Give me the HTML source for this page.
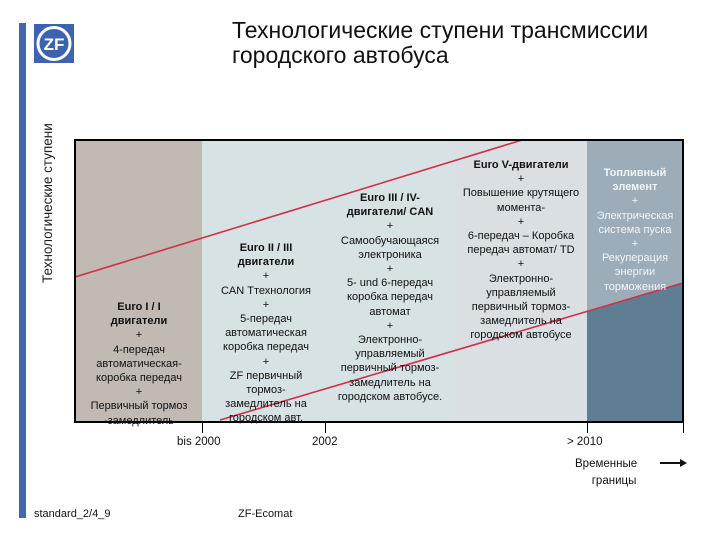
<!DOCTYPE html>
<html><head><meta charset="utf-8">
<style>
body{margin:0;width:720px;height:540px;background:#fff;position:relative;overflow:hidden;font-family:"Liberation Sans","DejaVu Sans",sans-serif;}
.abs{position:absolute}
.col{position:absolute;text-align:center;font-size:11px;line-height:14.2px;color:#111}
.col b{font-weight:bold}
.tick{position:absolute;width:1px;background:#000;top:422px;height:11px}
.lbl{position:absolute;font-size:11.5px;color:#111}
</style></head><body>
<div class="abs" style="left:19px;top:23px;width:7px;height:495px;background:#4466b0"></div>
<div class="abs" style="left:34px;top:24px;width:40px;height:39px;background:#3d63b0">
<svg width="40" height="39"><circle cx="20" cy="19.5" r="16" fill="none" stroke="#fff" stroke-width="3"/><text x="20" y="26" text-anchor="middle" font-family="Liberation Sans" font-weight="bold" font-size="17" fill="#fff">ZF</text></svg></div>
<div class="abs" style="left:232px;top:18px;font-size:23px;line-height:24.5px;color:#111">Технологические ступени трансмиссии<br>городского автобуса</div>
<div class="abs" style="left:40px;top:283px;transform:rotate(-90deg);transform-origin:0 0;font-size:13.5px;white-space:nowrap;color:#222">Технологические ступени</div>
<svg class="abs" style="left:0;top:0" width="720" height="540" id="ch">
<rect x="75" y="140" width="127" height="282" fill="#c0bab2"/>
<rect x="202" y="140" width="253" height="282" fill="#d6e2e4"/>
<rect x="455" y="140" width="132" height="282" fill="#d9dfe3"/>
<rect x="587" y="140" width="96" height="282" fill="#9cadb9"/>
<polygon points="587,312 683,283 683,422 587,422" fill="#5f7d93"/>
<g id="lines"></g>
<rect x="75" y="140" width="608" height="282" fill="none" stroke="#000" stroke-width="2"/>
</svg>
<script>
const stageX=[75,522];
const stageY=[277,140];
const stage2X=[220,683];
const stage2Y=[420,283];
const g=document.getElementById('lines');
function mk(xs,ys,n){const l=document.createElementNS('http://www.w3.org/2000/svg','line');
l.setAttribute('x1',xs[0]);l.setAttribute('y1',ys[0]);l.setAttribute('x2',xs[1]);l.setAttribute('y2',ys[1]);
l.setAttribute('stroke','#d0304a');l.setAttribute('stroke-width','1.6');


g.appendChild(l);}
mk(stageX,stageY,'upper-red-line');mk(stage2X,stage2Y,'lower-red-line');
</script>
<div class="col" style="left:78px;top:300px;width:122px"><b>Euro I / I<br>двигатели</b><br>+<br>4-передач<br>автоматическая-<br>коробка передач<br>+<br>Первичный тормоз<br>-замедлитель</div>
<div class="col" style="left:205px;top:241px;width:122px"><b>Euro II / III<br>двигатели</b><br>+<br>CAN Ттехнология<br>+<br>5-передач<br>автоматическая<br>коробка передач<br>+<br>ZF первичный<br>тормоз-<br>замедлитель на<br>городском авт.</div>
<div class="col" style="left:325px;top:191px;width:130px"><b>Euro III / IV-<br>двигатели/ CAN</b><br>+<br>Самообучающаяся<br>электроника<br>+<br>5- und 6-передач<br>коробка передач<br>автомат<br>+<br>Электронно-<br>управляемый<br>первичный тормоз-<br>замедлитель на<br>городском автобусе.</div>
<div class="col" style="left:452px;top:158px;width:138px"><b>Euro V-двигатели</b><br>+<br>Повышение крутящего<br>момента-<br>+<br>6-передач – Коробка<br>передач автомат/ TD<br>+<br>Электронно-<br>управляемый<br>первичный тормоз-<br>замедлитель на<br>городском автобусе</div>
<div class="col" style="left:587px;top:166px;width:96px;color:#f2f4f6"><b>Топливный<br>элемент</b><br>+<br>Электрическая<br>система пуска<br>+<br>Рекуперация<br>энергии<br>торможения</div>
<div class="tick" style="left:202px"></div>
<div class="tick" style="left:325px"></div>
<div class="tick" style="left:587px"></div>
<div class="tick" style="left:683px"></div>
<div class="lbl" style="left:177px;top:436px">bis 2000</div>
<div class="lbl" style="left:312px;top:436px">2002</div>
<div class="lbl" style="left:567px;top:436px">&gt; 2010</div>
<div class="lbl" style="left:575px;top:456px;text-align:center;line-height:17px">Временные<br>&nbsp;&nbsp;&nbsp;&nbsp;&nbsp;границы</div>
<svg class="abs" style="left:660px;top:458px" width="28" height="10"><line x1="0" y1="5" x2="22" y2="5" stroke="#111" stroke-width="2"/><polygon points="20,1 27,5 20,9" fill="#111"/></svg>
<div class="lbl" style="left:34px;top:508px;font-size:11px">standard_2/4_9</div>
<div class="lbl" style="left:238px;top:508px;font-size:11px">ZF-Ecomat</div>
</body></html>
